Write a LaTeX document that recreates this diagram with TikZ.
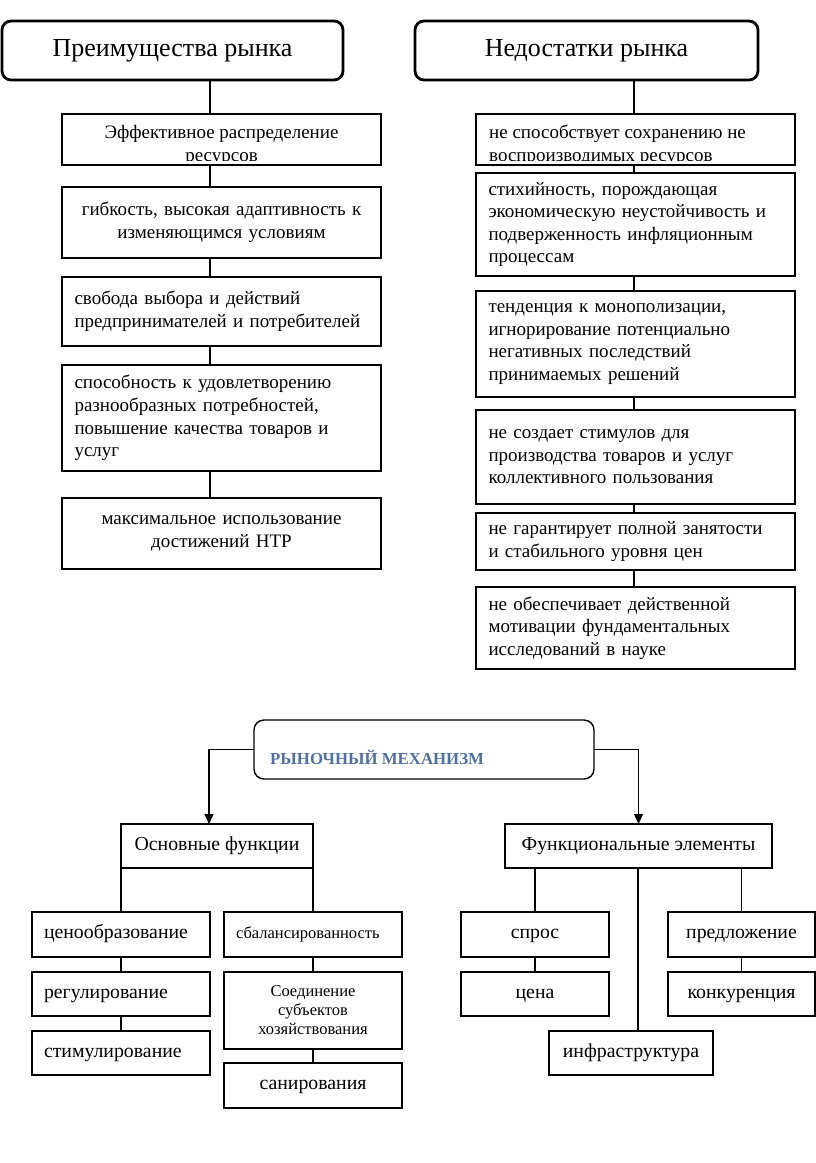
\documentclass[tikz,border=0pt]{standalone}
\usepackage{fontspec}
\setmainfont{Liberation Serif}
\usetikzlibrary{arrows.meta}
\definecolor{mblue}{RGB}{80,112,168}
\newcommand\bodyfnt{\fontsize{19}{22.6}\selectfont}
\newcommand\titlefnt{\fontsize{26}{30}\selectfont}
\newcommand\botfnt{\fontsize{19.8}{23}\selectfont}
\newcommand\smfnt{\fontsize{16.5}{19}\selectfont}
\newcommand\mechfnt{\fontsize{16.8}{20}\selectfont\bfseries}
\begin{document}
\begin{tikzpicture}[x=1pt,y=-1pt,
  hdr/.style={draw, line width=2.8pt, rounded corners=9pt, font=\titlefnt, minimum height=59pt, inner sep=0pt},
  lbox/.style={draw, line width=1.4pt, minimum width=319pt, inner xsep=12.5pt, inner ysep=0pt, text width=294pt, align=left, font=\bodyfnt},
  cbox/.style={lbox, align=center},
  mbox/.style={draw, line width=1.4pt, inner xsep=12pt, inner ysep=0pt, font=\botfnt, minimum height=44pt, outer sep=0pt},
  bbox/.style={mbox, text height=12pt, text depth=4pt},
  conn/.style={line width=1.4pt},
  arr/.style={line width=1.4pt, -{Triangle[length=10pt,width=9pt]}},
  cliptxt/.style={inner xsep=0pt, inner ysep=0pt, font=\bodyfnt, anchor=base}
]
\useasboundingbox (0,0) rectangle (816,1163);
\fill[white] (0,0) rectangle (816,1163);

% ---------- headers ----------
\node[hdr, minimum width=341pt] (hL) at (172.5,50.5) {Преимущества рынка};
\node[hdr, minimum width=343pt] (hR) at (586.5,50.5) {Недостатки рынка};

\coordinate (lx) at (210,0);
\coordinate (rx) at (634,0);

% ---------- left column ----------
\node[cbox, minimum height=51pt] (L1) at (221.5,139.5) {};
\node[cbox, minimum height=71pt] (L2) at (221.5,222.5) {гибкость, высокая адаптивность к\\изменяющимся условиям};
\node[lbox, minimum height=69pt] (L3) at (221.5,311.5) {свобода выбора и действий\\предпринимателей и потребителей};
\node[lbox, minimum height=106pt] (L4) at (221.5,418) {способность к удовлетворению\\разнообразных потребностей,\\повышение качества товаров и\\услуг};
\node[cbox, minimum height=71pt] (L5) at (221.5,533.5) {максимальное использование\\достижений НТР};

\begin{scope}
\clip (62,114) rectangle (381,160);
\node[cliptxt] (L1a) at (221.5,138.5) {Эффективное распределение};
\node[cliptxt] (L1b) at (221.5,161.5) {ресурсов};
\end{scope}

\draw[conn] (hL.south -| lx) -- (L1.north -| lx);
\draw[conn] (L1.south -| lx) -- (L2.north -| lx);
\draw[conn] (L2.south -| lx) -- (L3.north -| lx);
\draw[conn] (L3.south -| lx) -- (L4.north -| lx);
\draw[conn] (L4.south -| lx) -- (L5.north -| lx);

% ---------- right column ----------
\node[lbox, minimum height=51pt] (R1) at (635.5,139.5) {};
\node[lbox, minimum height=103pt] (R2) at (635.5,224.5) {стихийность, порождающая\\экономическую неустойчивость и\\подверженность инфляционным\\процессам};
\node[lbox, minimum height=106pt] (R3) at (635.5,344) {тенденция к монополизации,\\игнорирование потенциально\\негативных последствий\\принимаемых решений};
\node[lbox, minimum height=94pt] (R4) at (635.5,457) {не создает стимулов для\\производства товаров и услуг\\коллективного пользования\\[10pt]};
\node[lbox, minimum height=57pt] (R5) at (635.5,541.5) {не гарантирует полной занятости\\и стабильного уровня цен};
\node[lbox, minimum height=82pt] (R6) at (635.5,628) {не обеспечивает действенной\\мотивации фундаментальных\\исследований в науке};

\begin{scope}
\clip (476,114) rectangle (795,160);
\node[cliptxt, anchor=base west] (R1a) at (489,138.5) {не способствует сохранению не};
\node[cliptxt, anchor=base west] (R1b) at (489,161.5) {воспроизводимых ресурсов};
\end{scope}

\draw[conn] (hR.south -| rx) -- (R1.north -| rx);
\draw[conn] (R1.south -| rx) -- (R2.north -| rx);
\draw[conn] (R2.south -| rx) -- (R3.north -| rx);
\draw[conn] (R3.south -| rx) -- (R4.north -| rx);
\draw[conn] (R4.south -| rx) -- (R5.north -| rx);
\draw[conn] (R5.south -| rx) -- (R6.north -| rx);

% ---------- market mechanism ----------
\node[draw, line width=1.4pt, rounded corners=10pt, minimum width=340pt, minimum height=59pt, inner sep=0pt, outer sep=0pt] (M) at (424,749.5) {};
\node[anchor=west, inner sep=0pt, font=\mechfnt, text=mblue] (Mt) at (270,757) {РЫНОЧНЫЙ МЕХАНИЗМ};

\node[bbox, minimum width=192pt] (F) at (217,846) {Основные функции};
\node[bbox, minimum width=267pt] (E) at (638.5,846) {Функциональные элементы};

\coordinate (ax) at (209,0);
\draw[arr] (M.west) -| (F.north -| ax);
\draw[arr] (M.east) -| (E.north);

% functions
\node[bbox, minimum width=178pt, minimum height=45pt, text width=154pt, align=left] (f1) at (121,934.5) {ценообразование};
\node[bbox, minimum width=178pt, text width=154pt, align=left] (f2) at (121,994) {регулирование};
\node[bbox, minimum width=178pt, text width=154pt, align=left] (f3) at (121,1053) {стимулирование};
\node[mbox, minimum width=178pt, minimum height=45pt, text width=154pt, align=left, font=\smfnt] (g1) at (313,934.5) {сбалансированность\\[4pt]};
\node[mbox, minimum width=178pt, minimum height=77pt, text width=154pt, align=center, font=\smfnt] (g2) at (313,1010.5) {Соединение\\субъектов\\хозяйствования\\[2pt]};
\node[bbox, minimum width=178pt, minimum height=45pt] (g3) at (313,1085.5) {санирования};

\draw[conn] (F.south west) -- (f1.north);
\draw[conn] (f1) -- (f2);
\draw[conn] (f2) -- (f3);
\draw[conn] (F.south east) -- (g1.north);
\draw[conn] (g1) -- (g2);
\draw[conn] (g2) -- (g3);

% elements
\node[bbox, minimum width=148pt, minimum height=45pt] (e1) at (535,934.5) {спрос};
\node[bbox, minimum width=148pt] (e2) at (535,994) {цена};
\node[bbox, minimum width=147pt, minimum height=45pt] (p1) at (741.5,934.5) {предложение};
\node[bbox, minimum width=147pt] (p2) at (741.5,994) {конкуренция};
\node[bbox, minimum width=164pt] (inf) at (631,1053) {инфраструктура};

\coordinate (ix) at (638,0);
\draw[conn] (E.south -| e1) -- (e1.north);
\draw[conn] (e1) -- (e2);
\draw[conn] (E.south -| p1) -- (p1.north);
\draw[conn] (p1) -- (p2);
\draw[conn] (E.south -| ix) -- (inf.north -| ix);
\end{tikzpicture}
\end{document}
